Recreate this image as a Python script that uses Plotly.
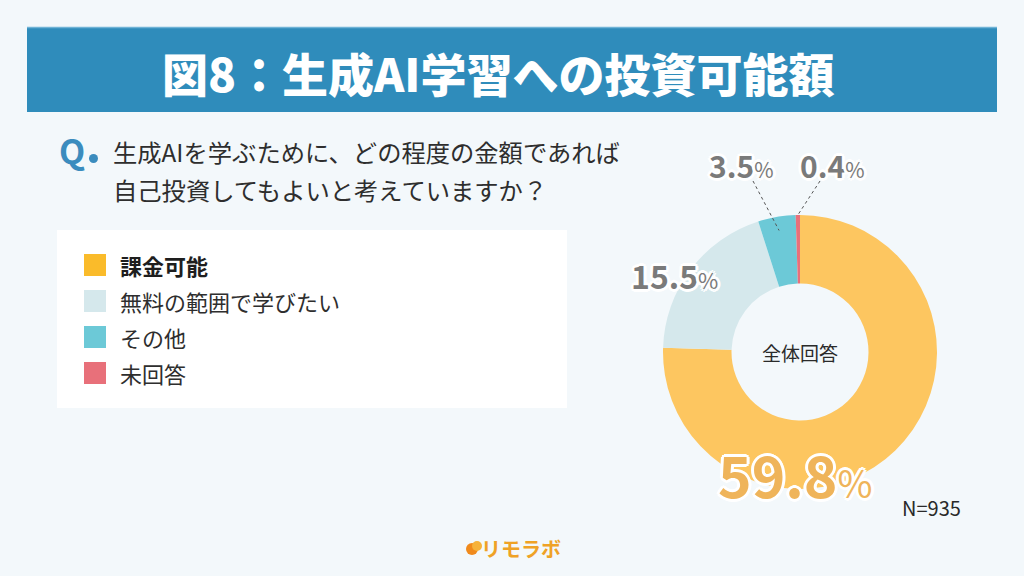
import math
import plotly.graph_objects as go

# ---------------- data ----------------
categories = ["課金可能", "無料の範囲で学びたい", "その他", "未回答"]
values = [59.8, 15.5, 3.5, 0.4]
value_labels = ["59.8", "15.5", "3.5", "0.4"]
title_text = "図8：生成AI学習への投資可能額"
question_lines = ["生成AIを学ぶために、どの程度の金額であれば", "自己投資してもよいと考えていますか？"]
center_text = "全体回答"
n_text = "N=935"
brand_text = "リモラボ"

# ---------------- style ----------------
W, H = 1024, 576
BG = "#F3F8FB"
BAND = "#2F8CBB"
pie_colors = ["#FDC660", "#D5E8EC", "#6CC9D7", "#E8707A"]
legend_colors = ["#FABB2A", "#D5E8EC", "#6CC9D7", "#E8707A"]
FONT = "Noto Sans CJK JP"
GRAY = "#7A7A7A"


def px(x):
    return x / W


def py(y):
    return 1 - y / H


CX, CY, R = 800, 352, 137

fig = go.Figure()
fig.add_trace(go.Pie(
    labels=categories,
    values=values,
    hole=0.5,
    sort=False,
    direction="clockwise",
    rotation=0,
    textinfo="none",
    marker=dict(colors=pie_colors, line=dict(width=0)),
    domain=dict(x=[px(CX - R), px(CX + R)], y=[py(CY + R), py(CY - R)]),
    showlegend=False,
    hovertemplate="%{label}: %{value}%<extra></extra>",
))

shapes = []
annotations = []

# title band
shapes.append(dict(type="rect", xref="paper", yref="paper", x0=px(27), x1=px(997), y0=py(112), y1=py(27),
                   fillcolor=BAND, line=dict(width=0), layer="below"))
shapes.append(dict(type="line", xref="paper", yref="paper", x0=px(27), x1=px(997), y0=py(27.5), y1=py(27.5),
                   line=dict(color="#6FB3D6", width=1.5)))
annotations.append(dict(text=title_text, x=px(498), y=py(72), xref="paper", yref="paper",
                        showarrow=False, xanchor="center", yanchor="middle",
                        font=dict(family=FONT, size=46, color="white", weight=900)))

# question
annotations.append(dict(text="<b>Q</b>", x=px(57), y=py(149), xref="paper", yref="paper", showarrow=False,
                        xanchor="left", yanchor="middle", font=dict(family=FONT, size=34, color="#3B8CBE")))
shapes.append(dict(type="circle", xref="paper", yref="paper", x0=px(89), x1=px(98), y0=py(163), y1=py(154),
                   fillcolor="#3B8CBE", line=dict(width=0)))
for i, line in enumerate(question_lines):
    annotations.append(dict(text=line, x=px(111), y=py(151 + 38 * i), xref="paper", yref="paper", showarrow=False,
                            xanchor="left", yanchor="middle", font=dict(family=FONT, size=24.3, color="#2E2E2E")))

# legend box
shapes.append(dict(type="rect", xref="paper", yref="paper", x0=px(57), x1=px(567), y0=py(408), y1=py(230),
                   fillcolor="white", line=dict(width=0), layer="below"))
row_y0, row_gap = 265, 36
for i, cat in enumerate(categories):
    yc = row_y0 + row_gap * i
    shapes.append(dict(type="rect", xref="paper", yref="paper", x0=px(84), x1=px(106), y0=py(yc + 11), y1=py(yc - 11),
                       fillcolor=legend_colors[i], line=dict(width=0)))
    txt = "<b>" + cat + "</b>" if i == 0 else cat
    annotations.append(dict(text=txt, x=px(118), y=py(yc), xref="paper", yref="paper", showarrow=False,
                            xanchor="left", yanchor="middle",
                            font=dict(family=FONT, size=22, color="#1E1E1E" if i == 0 else "#2E2E2E")))

# donut labels
outline = ", ".join(f"{dx}px {dy}px 0 #ffffff" for dx, dy in
                    [(3, 0), (-3, 0), (0, 3), (0, -3), (2, 2), (-2, -2), (2, -2), (-2, 2)])


def pct(v, psize):
    return f"<b>{v}</b><span style='font-size:{psize}px'>%</span>"


label_pos = [(795, 473, 57, 38, "#EFB45A"), (674, 275, 32, 22, GRAY), (741, 165, 30, 21, GRAY), (832, 165, 30, 21, GRAY)]
for i, (lx, ly, fs, ps, col) in enumerate(label_pos):
    annotations.append(dict(text=pct(value_labels[i], ps), x=px(lx), y=py(ly), xref="paper", yref="paper",
                            showarrow=False, xanchor="center", yanchor="middle",
                            font=dict(family=FONT, size=fs, color=col, shadow=outline)))

# leader lines for the two small slices, from slice mid-angles
total = sum(values)
cum = 0
mids = []
for v in values:
    mids.append((cum + v / 2) / total * 2 * math.pi)
    cum += v
leader = {2: (753, 181, 0.9), 3: (820, 181, 1.0)}
for idx, (tx, ty, rf) in leader.items():
    a = mids[idx]
    ex = CX + R * rf * math.sin(a)
    ey = CY - R * rf * math.cos(a)
    shapes.append(dict(type="line", xref="paper", yref="paper", x0=px(tx), y0=py(ty), x1=px(ex), y1=py(ey),
                       line=dict(color="#555555", width=1, dash="dot")))

annotations.append(dict(text=center_text, x=px(CX), y=py(CY), xref="paper", yref="paper", showarrow=False,
                        xanchor="center", yanchor="middle", font=dict(family=FONT, size=19, color="#2A2A2A")))
annotations.append(dict(text=n_text, x=px(931), y=py(507), xref="paper", yref="paper", showarrow=False,
                        xanchor="center", yanchor="middle", font=dict(family=FONT, size=20, color="#2A2A2A")))

# brand
shapes.append(dict(type="circle", xref="paper", yref="paper", x0=px(466), x1=px(478), y0=py(555), y1=py(543),
                   fillcolor="#F08A1C", line=dict(width=0)))
shapes.append(dict(type="circle", xref="paper", yref="paper", x0=px(472), x1=px(482), y0=py(551), y1=py(541),
                   fillcolor="#F6B23A", line=dict(width=0)))
annotations.append(dict(text="<b>" + brand_text + "</b>", x=px(521), y=py(548), xref="paper", yref="paper",
                        showarrow=False, xanchor="center", yanchor="middle",
                        font=dict(family=FONT, size=20, color="#EFA226")))

fig.update_layout(
    width=W, height=H,
    margin=dict(l=0, r=0, t=0, b=0),
    paper_bgcolor=BG, plot_bgcolor=BG,
    shapes=shapes, annotations=annotations,
    font=dict(family=FONT),
)
fig.write_html(
    "out.html",
    config={"displayModeBar": False},
    post_script="document.body.style.margin='0';document.body.style.background='" + BG + "';"
                "document.documentElement.style.overflow='hidden';",
)
